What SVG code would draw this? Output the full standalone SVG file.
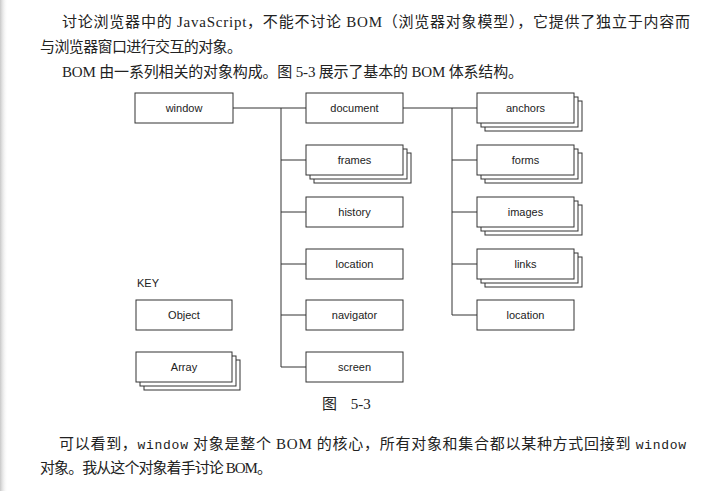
<svg xmlns="http://www.w3.org/2000/svg" width="728" height="491" viewBox="0 0 728 491">
<defs>
<linearGradient id="edge" x1="0" y1="0" x2="1" y2="0">
<stop offset="0" stop-color="#c8c8c8"/>
<stop offset="1" stop-color="#ffffff" stop-opacity="0"/>
</linearGradient>
</defs>
<style>
.bx{fill:#fff;stroke:#333;stroke-width:1}
.ln{fill:none;stroke:#333;stroke-width:1}
.lb{font-family:"Liberation Sans",Arial,sans-serif;font-size:11px;fill:#222;text-anchor:middle}
.tx{font-family:"Liberation Serif","Noto Sans CJK SC",serif;font-size:15px;fill:#222}
.mono{font-family:"Liberation Mono",monospace;font-size:13px}
</style>
<rect x="0" y="0" width="728" height="491" fill="#fff"/>
<rect x="0" y="0" width="8" height="491" fill="url(#edge)"/>

<text class="tx" x="62" y="27" textLength="628">讨论浏览器中的 JavaScript，不能不讨论 BOM（浏览器对象模型），它提供了独立于内容而</text>
<text class="tx" x="40" y="52" textLength="202">与浏览器窗口进行交互的对象。</text>
<text class="tx" x="62" y="77" textLength="461">BOM 由一系列相关的对象构成。图 5-3 展示了基本的 BOM 体系结构。</text>

<g id="connectors">
<path class="ln" d="M233 108H306M281 108V367M281 160H306M281 212H306M281 264H306M281 315H306M281 367H306"/>
<path class="ln" d="M403 108H477M452 108V315M452 160H477M452 212H477M452 264H477M452 315H477"/>
</g>

<g id="window"><rect class="bx" x="135" y="93" width="98" height="30"/><text class="lb" x="184" y="112">window</text></g>
<g id="document"><rect class="bx" x="306" y="93" width="97" height="30"/><text class="lb" x="354.5" y="112">document</text></g>
<g id="frames"><rect class="bx" x="314" y="153" width="97" height="30"/><rect class="bx" x="310" y="149" width="97" height="30"/><rect class="bx" x="306" y="145" width="97" height="30"/><text class="lb" x="354.5" y="164">frames</text></g>
<g id="history"><rect class="bx" x="306" y="197" width="97" height="30"/><text class="lb" x="354.5" y="216">history</text></g>
<g id="location1"><rect class="bx" x="306" y="249" width="97" height="30"/><text class="lb" x="354.5" y="268">location</text></g>
<g id="navigator"><rect class="bx" x="306" y="300" width="97" height="30"/><text class="lb" x="354.5" y="319">navigator</text></g>
<g id="screen"><rect class="bx" x="306" y="352" width="97" height="30"/><text class="lb" x="354.5" y="371">screen</text></g>

<g id="anchors"><rect class="bx" x="485" y="101" width="97" height="30"/><rect class="bx" x="481" y="97" width="97" height="30"/><rect class="bx" x="477" y="93" width="97" height="30"/><text class="lb" x="525.5" y="112">anchors</text></g>
<g id="forms"><rect class="bx" x="485" y="153" width="97" height="30"/><rect class="bx" x="481" y="149" width="97" height="30"/><rect class="bx" x="477" y="145" width="97" height="30"/><text class="lb" x="525.5" y="164">forms</text></g>
<g id="images"><rect class="bx" x="485" y="205" width="97" height="30"/><rect class="bx" x="481" y="201" width="97" height="30"/><rect class="bx" x="477" y="197" width="97" height="30"/><text class="lb" x="525.5" y="216">images</text></g>
<g id="links"><rect class="bx" x="485" y="257" width="97" height="30"/><rect class="bx" x="481" y="253" width="97" height="30"/><rect class="bx" x="477" y="249" width="97" height="30"/><text class="lb" x="525.5" y="268">links</text></g>
<g id="location2"><rect class="bx" x="477" y="300" width="97" height="30"/><text class="lb" x="525.5" y="319">location</text></g>

<g id="key"><text x="137" y="287" style="font-family:'Liberation Sans',Arial,sans-serif;font-size:11px;fill:#222">KEY</text></g>
<g id="object"><rect class="bx" x="136" y="300" width="96" height="30"/><text class="lb" x="184" y="319">Object</text></g>
<g id="array"><rect class="bx" x="144" y="360" width="96" height="30"/><rect class="bx" x="140" y="356" width="96" height="30"/><rect class="bx" x="136" y="352" width="96" height="30"/><text class="lb" x="184" y="371">Array</text></g>

<text class="tx" x="322" y="409">图 <tspan dx="10">5-3</tspan></text>

<text class="tx" x="59" y="449" textLength="627">可以看到，<tspan class="mono">window</tspan> 对象是整个 BOM 的核心，所有对象和集合都以某种方式回接到 <tspan class="mono">window</tspan></text>
<text class="tx" x="40" y="473" textLength="232">对象。我从这个对象着手讨论 BOM。</text>
</svg>
